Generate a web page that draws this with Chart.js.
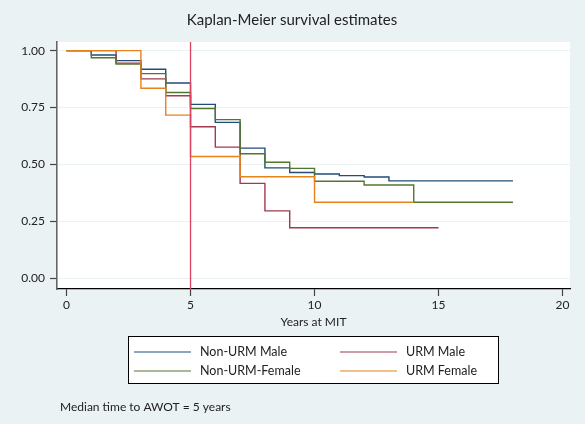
<!DOCTYPE html>
<html>
<head>
<meta charset="utf-8">
<script src="https://cdn.jsdelivr.net/npm/chart.js@4"></script>
<style>
  body { margin: 0; background: #eaf2f3; }
  #wrap { width: 585px; height: 424px; position: relative; }
</style>
</head>
<body>
<div id="wrap"><canvas id="myChart"></canvas></div>
<script>
// step times (years at MIT) and survival estimates
const nonUrmMaleT = [0, 1, 2, 3, 4, 5, 6, 7, 8, 9, 10, 11, 12, 13, 18];
const nonUrmMaleS = [1, 0.981, 0.956, 0.918, 0.858, 0.764, 0.685, 0.572, 0.485, 0.465, 0.458, 0.451, 0.445, 0.428, 0.428];

const urmMaleT = [0, 2, 3, 4, 5, 6, 7, 8, 9, 15];
const urmMaleS = [1, 0.945, 0.876, 0.802, 0.666, 0.576, 0.417, 0.296, 0.222, 0.222];

const nonUrmFemaleT = [0, 1, 2, 3, 4, 5, 6, 7, 8, 9, 10, 12, 14, 18];
const nonUrmFemaleS = [1, 0.969, 0.941, 0.899, 0.816, 0.746, 0.697, 0.547, 0.510, 0.483, 0.426, 0.410, 0.334, 0.334];

const urmFemaleT = [0, 3, 4, 5, 7, 10, 14];
const urmFemaleS = [1, 0.835, 0.717, 0.535, 0.446, 0.334, 0.334];

const xTicks = [0, 5, 10, 15, 20];
const yTicks = [0, 0.25, 0.5, 0.75, 1];
const medianTime = 5;

const FONT = 'Lato, "Open Sans", sans-serif';

function pts(t, s) {
    return t.map((v, i) => ({ x: v, y: s[i] }));
}

// order: lower number is drawn on top
function stepSet(label, t, s, color, order) {
    return {
        label: label,
        data: pts(t, s),
        borderColor: color,
        backgroundColor: color,
        borderWidth: 1.4,
        pointRadius: 0,
        stepped: 'before',
        fill: false,
        order: order
    };
}

const data = {
    datasets: [
        stepSet('Non-URM Male', nonUrmMaleT, nonUrmMaleS, '#1f4e78', 4),
        stepSet('URM Male', urmMaleT, urmMaleS, '#a03a4c', 3),
        stepSet('Non-URM-Female', nonUrmFemaleT, nonUrmFemaleS, '#55752f', 2),
        stepSet('URM Female', urmFemaleT, urmFemaleS, '#e8821a', 1),
        {
            label: 'median',
            data: [{ x: medianTime, y: -0.047 }, { x: medianTime, y: 1.038 }],
            borderColor: '#d9435e',
            borderWidth: 1.3,
            pointRadius: 0,
            fill: false,
            order: 0
        }
    ]
};

// backgrounds, title, legend box and note
const decor = {
    id: 'decor',
    beforeDraw(chart) {
        const ctx = chart.ctx;
        const a = chart.chartArea;
        ctx.save();
        ctx.fillStyle = '#eaf2f3';
        ctx.fillRect(0, 0, chart.width, chart.height);
        ctx.fillStyle = '#ffffff';
        ctx.fillRect(a.left, a.top, a.right - a.left, a.bottom - a.top);
        ctx.restore();
    },
    afterDraw(chart) {
        const ctx = chart.ctx;
        ctx.save();
        ctx.fillStyle = '#222';
        ctx.font = '15px ' + FONT;
        ctx.textAlign = 'center';
        ctx.textBaseline = 'middle';
        ctx.fillText('Kaplan-Meier survival estimates', 292, 20);

        // legend box
        ctx.fillStyle = '#ffffff';
        ctx.fillRect(128.5, 336.5, 370, 47);
        ctx.strokeStyle = '#000';
        ctx.lineWidth = 1;
        ctx.strokeRect(128.5, 336.5, 370, 47);

        const items = [
            [0, 134, 352], [1, 340, 352],
            [2, 134, 371], [3, 340, 371]
        ];
        ctx.font = '12.5px ' + FONT;
        ctx.textAlign = 'left';
        items.forEach(([i, x, y]) => {
            const ds = chart.data.datasets[i];
            ctx.strokeStyle = ds.borderColor;
            ctx.lineWidth = 1.2;
            ctx.beginPath();
            ctx.moveTo(x, y);
            ctx.lineTo(x + 57, y);
            ctx.stroke();
            ctx.fillStyle = '#222';
            ctx.fillText(ds.label, x + 66, y);
        });

        ctx.font = '12px ' + FONT;
        ctx.fillText('Median time to AWOT = 5 years', 60, 407);
        ctx.restore();
    }
};

const config = {
    type: 'line',
    data: data,
    options: {
        responsive: false,
        animation: false,
        layout: { padding: { left: 0, right: 15, top: 42, bottom: 95 } },
        plugins: {
            legend: { display: false },
            title: { display: false },
            tooltip: { enabled: false }
        },
        scales: {
            x: {
                type: 'linear',
                min: -0.383,
                max: 20.3,
                afterBuildTicks: (s) => { s.ticks = xTicks.map(v => ({ value: v })); },
                afterFit: (s) => { s.height = 40; },
                grid: { drawOnChartArea: false, tickLength: 7, tickColor: '#444', tickWidth: 1.2 },
                border: { color: '#000', width: 1.3 },
                ticks: { color: '#222', font: { family: FONT, size: 12 }, padding: 2, maxRotation: 0 },
                title: { display: true, text: 'Years at MIT', color: '#222', font: { family: FONT, size: 12 }, padding: 0 }
            },
            y: {
                min: -0.047,
                max: 1.038,
                afterBuildTicks: (s) => { s.ticks = yTicks.map(v => ({ value: v })); },
                afterFit: (s) => { s.width = 57; },
                grid: { color: '#eaf2f3', lineWidth: 1, tickLength: 7, tickColor: '#444', tickWidth: 1.2 },
                border: { color: '#666', width: 1.6 },
                ticks: {
                    color: '#222',
                    font: { family: FONT, size: 12 },
                    padding: 5,
                    callback: (v) => Number(v).toFixed(2)
                }
            }
        }
    },
    plugins: [decor]
};

const canvas = document.getElementById('myChart');
canvas.width = 585;
canvas.height = 424;
const myChart = new Chart(canvas, config);
</script>
</body>
</html>
